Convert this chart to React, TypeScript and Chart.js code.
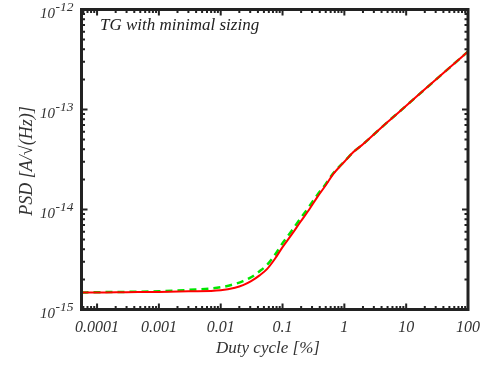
import React, { useEffect, useRef } from "react";
import { Chart, registerables } from "chart.js";

Chart.register(...registerables);

const dutyCycle = [5.6e-5, 1e-4, 3e-4, 1e-3, 3e-3, 0.01, 0.017, 0.023, 0.031, 0.042, 0.0565, 0.075, 0.1, 0.14, 0.194, 0.27, 0.365, 0.5, 0.66, 0.85, 1.0, 1.4, 2, 5, 10, 20, 50, 100];

const psdRed = [1.48e-15, 1.48e-15, 1.49e-15, 1.5e-15, 1.52e-15, 1.56e-15, 1.65e-15, 1.75e-15, 1.92e-15, 2.18e-15, 2.55e-15, 3.2e-15, 4.2e-15, 5.6e-15, 7.5e-15, 1.0e-14, 1.33e-14, 1.75e-14, 2.26e-14, 2.7e-14, 3.0e-14, 3.75e-14, 4.5e-14, 7.5e-14, 1.09e-13, 1.59e-13, 2.61e-13, 3.8e-13];

const psdGreen = [1.48e-15, 1.49e-15, 1.5e-15, 1.52e-15, 1.57e-15, 1.67e-15, 1.8e-15, 1.92e-15, 2.1e-15, 2.4e-15, 2.8e-15, 3.5e-15, 4.6e-15, 6.1e-15, 8.1e-15, 1.07e-14, 1.4e-14, 1.8e-14, 2.3e-14, 2.73e-14, 3.02e-14, 3.75e-14, 4.5e-14, 7.5e-14, 1.09e-13, 1.59e-13, 2.61e-13, 3.8e-13];

const xTickValues = [1e-4, 1e-3, 1e-2, 1e-1, 1, 10, 100];
const xTickLabels = ["0.0001", "0.001", "0.01", "0.1", "1", "10", "100"];
const yTickExponents = [-15, -14, -13, -12];

const xTitle = "Duty cycle [%]";
const yTitle = "PSD [A/\u221A(Hz)]";
const annotation = "TG with minimal sizing";

const FONT = "'Liberation Serif', 'DejaVu Serif', serif";

const framePlugin = {
  id: "framePlugin",
  afterDraw(chart: any) {
    const ctx = chart.ctx as CanvasRenderingContext2D;
    const { left, right, top, bottom } = chart.chartArea;
    const xs = chart.scales.x;
    const ys = chart.scales.y;
    ctx.save();
    ctx.strokeStyle = "#222";
    ctx.lineWidth = 2;
    const major = 6;
    const minor = 3.5;
    for (let e = -5; e <= 2; e++) {
      for (let m = 1; m <= 9; m++) {
        const v = m * Math.pow(10, e);
        if (v < xs.min * 0.9999 || v > xs.max * 1.0001) continue;
        const px = xs.getPixelForValue(v);
        const len = m === 1 ? major : minor;
        ctx.beginPath();
        ctx.moveTo(px, bottom);
        ctx.lineTo(px, bottom - len);
        ctx.moveTo(px, top);
        ctx.lineTo(px, top + len);
        ctx.stroke();
      }
    }
    for (let e = -15; e <= -12; e++) {
      for (let m = 1; m <= 9; m++) {
        const v = m * Math.pow(10, e);
        if (v < ys.min * 0.9999 || v > ys.max * 1.0001) continue;
        const py = ys.getPixelForValue(v);
        const len = m === 1 ? major : minor;
        ctx.beginPath();
        ctx.moveTo(left, py);
        ctx.lineTo(left + len, py);
        ctx.moveTo(right, py);
        ctx.lineTo(right - len, py);
        ctx.stroke();
      }
    }
    ctx.lineWidth = 3;
    ctx.strokeStyle = "#222";
    ctx.strokeRect(left, top, right - left, bottom - top);

    ctx.fillStyle = "#333";
    ctx.font = `italic 16px ${FONT}`;
    ctx.textAlign = "center";
    ctx.textBaseline = "alphabetic";
    xTickValues.forEach((v, i) => {
      const px = xs.getPixelForValue(v);
      ctx.fillText(xTickLabels[i], px, bottom + 22.5);
    });

    yTickExponents.forEach((e) => {
      const py = ys.getPixelForValue(Math.pow(10, e));
      const exp = String(e);
      ctx.font = `italic 13.5px ${FONT}`;
      const ew = ctx.measureText(exp).width;
      const xr = left - 8;
      ctx.textAlign = "left";
      ctx.fillText(exp, xr - ew, py + 1.5);
      ctx.font = `italic 15px ${FONT}`;
      const bw = ctx.measureText("10").width;
      ctx.fillText("10", xr - ew - bw - 0.5, py + 8);
    });

    ctx.font = `italic 17px ${FONT}`;
    ctx.textAlign = "center";
    ctx.fillText(xTitle, 268, 353);
    ctx.save();
    ctx.translate(27, 161);
    ctx.rotate(-Math.PI / 2);
    ctx.textBaseline = "middle";
    ctx.font = `italic 18px ${FONT}`;
    ctx.fillText(yTitle, 0, 0);
    ctx.restore();

    ctx.font = `italic 17px ${FONT}`;
    ctx.textAlign = "left";
    ctx.fillStyle = "#222";
    ctx.fillText(annotation, 100, 30);
    ctx.restore();
  },
};

export default function App() {
  const ref = useRef<HTMLCanvasElement | null>(null);
  useEffect(() => {
    if (!ref.current) return;
    const chart = new Chart(ref.current, {
      type: "line",
      data: {
        datasets: [
          {
            label: "red",
            data: dutyCycle.map((x, i) => ({ x, y: psdRed[i] })),
            borderColor: "#ff0000",
            borderWidth: 2,
            pointRadius: 0,
            cubicInterpolationMode: "monotone",
            fill: false,
          },
          {
            label: "green",
            data: dutyCycle.map((x, i) => ({ x, y: psdGreen[i] })),
            borderColor: "#00e600",
            borderWidth: 2.5,
            borderDash: [7, 5],
            pointRadius: 0,
            cubicInterpolationMode: "monotone",
            fill: false,
          },
        ],
      },
      options: {
        animation: false,
        responsive: false,
        maintainAspectRatio: false,
        layout: { padding: { left: 81.5, right: 19, top: 9.5, bottom: 57.5 } },
        plugins: { legend: { display: false }, tooltip: { enabled: false } },
        scales: {
          x: { type: "logarithmic", min: 5.6e-5, max: 100, display: false },
          y: { type: "logarithmic", min: 1e-15, max: 1e-12, display: false },
        },
      },
      plugins: [framePlugin],
    });
    return () => chart.destroy();
  }, []);
  return (
    <div style={{ position: "absolute", left: 0, top: 0, width: 487, height: 367 }}>
      <canvas ref={ref} width={487} height={367} style={{ display: "block" }} />
    </div>
  );
}
